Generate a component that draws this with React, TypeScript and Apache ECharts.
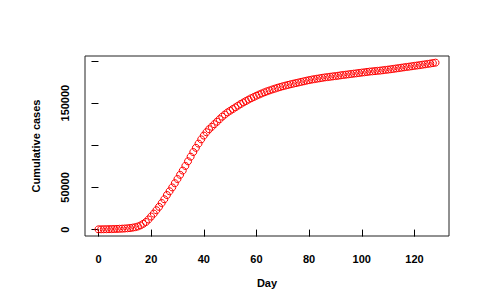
import React, { useEffect, useRef } from "react";
import * as echarts from "echarts";

const days: number[] = Array.from({ length: 129 }, (_, i) => i);

const cumulativeCases: number[] = [
  300, 350, 400, 450, 520, 600, 700, 800, 950, 1100,
  1300, 1550, 1850, 2300, 2900, 3700, 5000, 6800, 9000, 12000,
  15500, 19000, 23000, 27000, 31500, 36000, 41000, 45500, 50000, 55000,
  60000, 65000, 70000, 75500, 81000, 86500, 92000, 97000, 102000, 107000,
  111500, 115500, 119000, 122000, 125000, 128000, 131000, 134000, 136500, 139000,
  141000, 143000, 145000, 147000, 149000, 150800, 152500, 154200, 155800, 157300,
  158800, 160200, 161500, 162800, 164000, 165100, 166200, 167200, 168200, 169100,
  170000, 170800, 171600, 172400, 173100, 173800, 174500, 175200, 175900, 176600,
  177300, 177900, 178500, 179000, 179500, 180000, 180500, 180900, 181300, 181700,
  182100, 182500, 183000, 183400, 183800, 184200, 184600, 185000, 185400, 185800,
  186200, 186600, 187000, 187400, 187700, 188000, 188300, 188600, 189000, 189400,
  189800, 190200, 190600, 191100, 191550, 192000, 192450, 192900, 193300, 193750,
  194200, 194650, 195100, 195550, 196000, 196500, 197000, 197500, 198000,
];

const xTicks: number[] = [0, 20, 40, 60, 80, 100, 120];
const yTicks: number[] = [0, 50000, 100000, 150000, 200000];
const yTickLabels: number[] = [0, 50000, 150000];

const FONT = "'Liberation Sans', Arial, Helvetica, sans-serif";

export default function App() {
  const ref = useRef<HTMLDivElement>(null);

  useEffect(() => {
    if (!ref.current) return;
    const chart = echarts.init(ref.current, null, { renderer: "svg" });

    const xMinData = Math.min(...days);
    const xMaxData = Math.max(...days);
    const xr = xMaxData - xMinData;
    const yMinData = Math.min(...cumulativeCases);
    const yMaxData = Math.max(...cumulativeCases);
    const yr = yMaxData - yMinData;

    const labelStyle = {
      color: "#000",
      fontFamily: FONT,
      fontSize: 11,
      fontWeight: "bold" as const,
    };

    chart.setOption({
      animation: false,
      backgroundColor: "#ffffff",
      grid: {
        left: 85,
        right: 42,
        top: 56,
        bottom: 71,
        show: true,
        borderColor: "#222",
        borderWidth: 1,
        backgroundColor: "transparent",
        containLabel: false,
        outerBoundsMode: "none",
      },
      xAxis: {
        type: "value",
        min: xMinData - 0.04 * xr,
        max: xMaxData + 0.04 * xr,
        name: "Day",
        nameLocation: "middle",
        nameGap: 41,
        nameTextStyle: { ...labelStyle, fontSize: 11 },
        axisLine: { show: false },
        splitLine: { show: false },
        axisTick: {
          show: true,
          inside: false,
          length: 7,
          customValues: xTicks,
          lineStyle: { color: "#000", width: 1 },
        },
        axisLabel: {
          ...labelStyle,
          margin: 17,
          customValues: xTicks,
          formatter: (v: number) => String(v),
        },
      },
      yAxis: {
        type: "value",
        min: yMinData - 0.04 * yr,
        max: yMaxData + 0.04 * yr,
        name: "Cumulative cases",
        nameLocation: "middle",
        nameRotate: 90,
        nameGap: 44,
        nameTextStyle: { ...labelStyle },
        axisLine: { show: false },
        splitLine: { show: false },
        axisTick: {
          show: true,
          inside: false,
          length: 7,
          customValues: yTicks,
          lineStyle: { color: "#000", width: 1 },
        },
        axisLabel: {
          ...labelStyle,
          rotate: 90,
          margin: 15,
          customValues: yTickLabels,
          formatter: (v: number) => String(v),
        },
      },
      series: [
        {
          type: "scatter",
          data: days.map((d, i) => [d, cumulativeCases[i]]),
          symbol: "circle",
          symbolSize: 7,
          itemStyle: {
            color: "rgba(0,0,0,0)",
            borderColor: "#ff0000",
            borderWidth: 1,
            opacity: 1,
          },
          emphasis: { disabled: true },
        },
      ],
    });

    return () => chart.dispose();
  }, []);

  return (
    <div
      ref={ref}
      style={{ position: "fixed", left: 0, top: 0, width: 491, height: 307, background: "#fff" }}
    />
  );
}
